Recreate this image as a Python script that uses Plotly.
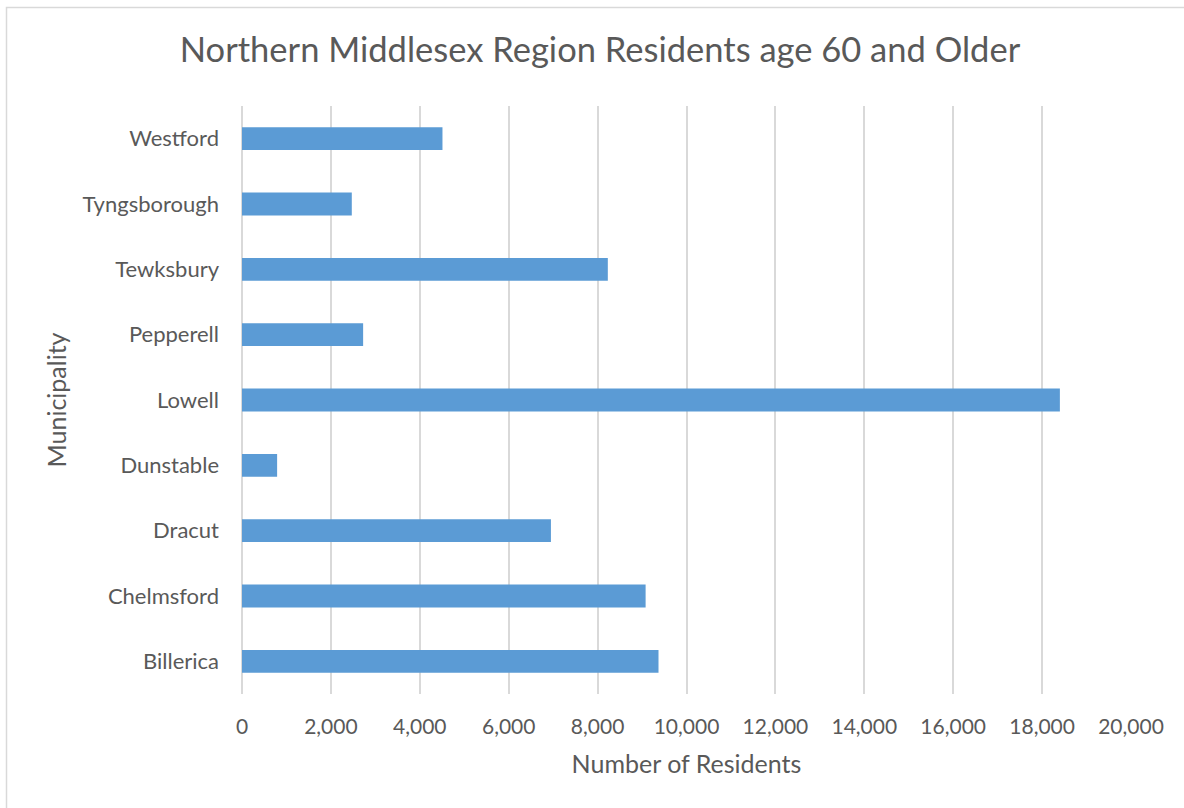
import plotly.graph_objects as go

# Residents age 60 and older by municipality (bottom-to-top order)
municipalities = ["Billerica", "Chelmsford", "Dracut", "Dunstable", "Lowell",
                  "Pepperell", "Tewksbury", "Tyngsborough", "Westford"]
residents = [9370, 9080, 6950, 790, 18400, 2725, 8230, 2470, 4510]
x_ticks = list(range(0, 20001, 2000))

W, H = 1184, 808
ML, MR, MT, MB = 242, 53, 106, 114
FONT = "Lato"
GREY = "#595959"

fig = go.Figure(go.Bar(
    y=municipalities,
    x=residents,
    orientation="h",
    marker=dict(color="#5B9BD5", line=dict(width=0)),
    width=0.35,
))

pw = W - ML - MR
ph = H - MT - MB
# light frame around the whole chart (right and bottom edges run off the page)
fig.add_shape(type="rect", xref="paper", yref="paper",
              x0=(6.5 - ML) / pw, x1=(W + 10 - ML) / pw,
              y0=-(MB + 10) / ph, y1=1 + (MT - 7.5) / ph,
              line=dict(color="#D9D9D9", width=1.5), layer="below")

fig.update_layout(
    width=W, height=H,
    margin=dict(l=ML, r=MR, t=MT, b=MB),
    paper_bgcolor="white", plot_bgcolor="white",
    showlegend=False,
    font=dict(family=FONT, color=GREY, size=21),
    title=dict(text="Northern Middlesex Region Residents age 60 and Older",
               x=600 / W, xref="container", xanchor="center",
               y=1 - 50 / H, yanchor="middle",
               font=dict(size=34.5, color=GREY, family=FONT)),
    xaxis=dict(range=[0, 20000], tickvals=x_ticks,
               tickformat=",d", showgrid=True, gridcolor="#D9D9D9", gridwidth=1.5,
               zeroline=True, zerolinecolor="#D9D9D9", zerolinewidth=1.5,
               showline=False, ticks="", ticklabelstandoff=18,
               tickfont=dict(size=21, color=GREY),
               title=dict(text="Number of Residents", standoff=18,
                          font=dict(size=25, color=GREY))),
    yaxis=dict(showgrid=False, showline=False, ticks="", zeroline=False,
               ticklabelstandoff=22,
               tickfont=dict(size=22, color=GREY),
               title=dict(text="Municipality", standoff=8,
                          font=dict(size=25, color=GREY))),
)

fig.write_html("out.html")
